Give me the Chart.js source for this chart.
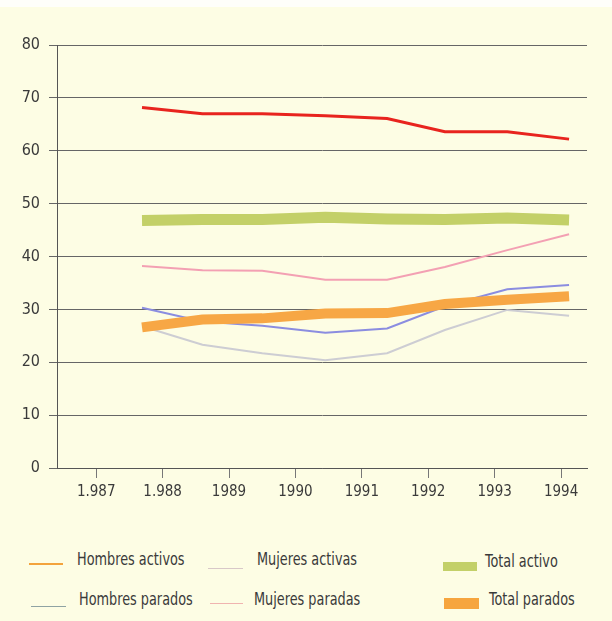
<!DOCTYPE html>
<html>
<head>
<meta charset="utf-8">
<script src="https://cdn.jsdelivr.net/npm/chart.js@4/dist/chart.umd.min.js"></script>
<style>
  body { margin: 0; background: #fdfde4; width: 612px; height: 621px; overflow: hidden; position: relative;
         font-family: "Liberation Sans Narrow", "DejaVu Sans Condensed", "Roboto", sans-serif; color: #3a3a3a; }
  #topStrip { position: absolute; left: 0; top: 0; width: 612px; height: 7px; background: #fefefa; }
  #wrap { position: absolute; left: 0; top: 0; width: 612px; height: 520px; }
  .leyenda { position: absolute; font-size: 17px; line-height: 20px; white-space: nowrap;
             transform: scaleX(0.84); transform-origin: 0 50%; }
  .muestra { position: absolute; }
</style>
</head>
<body>
<div id="topStrip"></div>
<div id="wrap"><canvas id="grafico" width="612" height="520"></canvas></div>
<div id="leyenda"></div>
<script>
// etiquetas del eje X (una por marca)
const tickYears = [1987, 1988, 1989, 1990, 1991, 1992, 1993, 1994];
const tickLabels = ["1.987", "1.988", "1989", "1990", "1991", "1992", "1993", "1994"];

// posiciones de los datos sobre el eje (los puntos no caen en las marcas)
const sampleYears = [1987.69, 1988.6, 1989.5, 1990.45, 1991.38, 1992.25, 1993.19, 1994.12];

// series (%)
const hombresActivos = [68.2, 67.0, 67.0, 66.6, 66.1, 63.6, 63.6, 62.2];
const totalActivo    = [46.8, 47.0, 47.0, 47.4, 47.1, 47.0, 47.3, 46.9];
const mujeresActivas = [38.2, 37.4, 37.3, 35.6, 35.6, 38.0, 41.2, 44.2];
const hombresParados = [30.3, 27.7, 26.9, 25.6, 26.4, 30.6, 33.8, 34.6];
const mujeresParadas = [26.8, 23.3, 21.7, 20.4, 21.7, 26.1, 29.9, 28.8];
const totalParados   = [26.6, 28.1, 28.3, 29.2, 29.3, 31.0, 31.8, 32.5];

const yTicks = [0, 10, 20, 30, 40, 50, 60, 70, 80];

const fuente = '"Liberation Sans Narrow", "DejaVu Sans Condensed", "Roboto", sans-serif';

function puntos(valores) {
  return valores.map((v, i) => ({ x: sampleYears[i], y: v }));
}

// orden de dibujo: bandas gruesas debajo, líneas finas encima
const datasets = [
  { label: "Total activo",    data: puntos(totalActivo),    borderColor: "#c3d068", borderWidth: 11 },
  { label: "Total parados",   data: puntos(totalParados),   borderColor: "#f7a745", borderWidth: 10 },
  { label: "Hombres activos", data: puntos(hombresActivos), borderColor: "#e8241e", borderWidth: 3 },
  { label: "Mujeres activas", data: puntos(mujeresActivas), borderColor: "#f3a0b3", borderWidth: 2 },
  { label: "Mujeres paradas", data: puntos(mujeresParadas), borderColor: "#cdcdd3", borderWidth: 2 },
  { label: "Hombres parados", data: puntos(hombresParados), borderColor: "#8b8de0", borderWidth: 2 },
];
datasets.forEach((d) => {
  d.pointRadius = 0;
  d.tension = 0;
  d.fill = false;
  d.borderCapStyle = "butt";
});

const ctx = document.getElementById("grafico").getContext("2d");
new Chart(ctx, {
  type: "line",
  data: { datasets: datasets },
  options: {
    responsive: false,
    animation: false,
    devicePixelRatio: 1,
    layout: { padding: { top: 45, right: 25, bottom: 0, left: 0 } },
    plugins: { legend: { display: false }, tooltip: { enabled: false } },
    scales: {
      x: {
        type: "linear",
        min: 1986.41,
        max: 1994.39,
        afterBuildTicks: (scale) => {
          scale.ticks = tickYears.map((v) => ({ value: v }));
        },
        afterFit: (scale) => { scale.height = 52; },
        grid: { drawOnChartArea: false, drawTicks: true, tickLength: 10, color: "#777", lineWidth: 1 },
        border: { display: true, color: "#555", width: 1 },
        ticks: {
          color: "#3a3a3a",
          font: { family: fuente, size: 15 },
          padding: 5,
          maxRotation: 0,
          autoSkip: false,
          callback: (value) => {
            const i = tickYears.indexOf(Math.round(value));
            return i >= 0 ? tickLabels[i] : "";
          },
        },
      },
      y: {
        min: 0,
        max: 80,
        afterBuildTicks: (scale) => {
          scale.ticks = yTicks.map((v) => ({ value: v }));
        },
        afterFit: (scale) => { scale.width = 57; },
        grid: { color: "#666", lineWidth: 1, tickLength: 8 },
        border: { display: true, color: "#555", width: 1 },
        ticks: {
          color: "#3a3a3a",
          font: { family: fuente, size: 16 },
          padding: 9,
        },
      },
    },
  },
});

// leyenda en HTML
const leyendaItems = [
  { texto: "Hombres activos", tx: 77,  ty: 549, sx: 29,  sy: 563, sw: 34, sh: 2,  color: "#f3a33c" },
  { texto: "Mujeres activas", tx: 257, ty: 549, sx: 208, sy: 568, sw: 35, sh: 1,  color: "#d8c8c8" },
  { texto: "Total activo",    tx: 485, ty: 551, sx: 443, sy: 562, sw: 34, sh: 9,  color: "#c3d068" },
  { texto: "Hombres parados", tx: 79,  ty: 589, sx: 31,  sy: 606, sw: 35, sh: 1,  color: "#8fa3a3" },
  { texto: "Mujeres paradas", tx: 254, ty: 589, sx: 210, sy: 603, sw: 33, sh: 1,  color: "#f0b4b0" },
  { texto: "Total parados",   tx: 489, ty: 589, sx: 444, sy: 598, sw: 35, sh: 11, color: "#f6a53e" },
];
const leyenda = document.getElementById("leyenda");
leyendaItems.forEach((it) => {
  const m = document.createElement("div");
  m.className = "muestra";
  m.style.left = it.sx + "px";
  m.style.top = it.sy + "px";
  m.style.width = it.sw + "px";
  m.style.height = it.sh + "px";
  m.style.background = it.color;
  leyenda.appendChild(m);

  const t = document.createElement("div");
  t.className = "leyenda";
  t.style.left = it.tx + "px";
  t.style.top = it.ty + "px";
  t.textContent = it.texto;
  leyenda.appendChild(t);
});
</script>
</body>
</html>
